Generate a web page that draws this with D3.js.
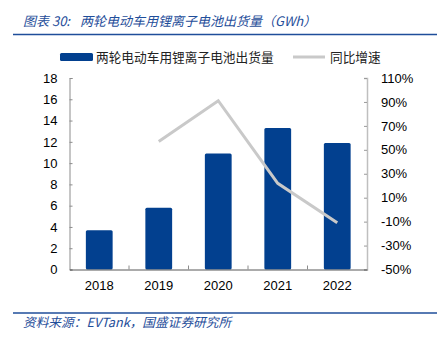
<!DOCTYPE html>
<html><head><meta charset="utf-8">
<script src="https://cdn.jsdelivr.net/npm/d3@7"></script>
<style>
body{margin:0;background:#fff;}
svg{display:block;}
</style></head>
<body>
<svg id="c" width="437" height="343"></svg>
<script>
const years = ["2018","2019","2020","2021","2022"];
const shipments = [3.7, 5.8, 10.9, 13.3, 11.9];
const growth = [null, 57, 91, 22, -11];
const leftTicks = [0,2,4,6,8,10,12,14,16,18];
const rightTicks = [-50,-30,-10,10,30,50,70,90,110];
const titlePrefix = "图表 30:";
const titleText = "两轮电动车用锂离子电池出货量（GWh）";
const sourceText = "资料来源：EVTank，国盛证券研究所";
const seriesNames = ["两轮电动车用锂离子电池出货量","同比增速"];

const svg = d3.select("#c");
const blue = "#02408F", grey = "#C9C9C9", textBlue = "#1F4E9A";
const font = "'Liberation Sans', Arial, sans-serif";
const cjk = "'Noto Sans CJK SC', sans-serif";

const L = 69.5, R = 367, B = 269.5, T = 78;
const x = d3.scaleBand().domain(years).range([L, R]).padding(0);
const yL = d3.scaleLinear().domain([0,18]).range([B, T]);
const yR = d3.scaleLinear().domain([-50,110]).range([B, T]);

// title
const tt = svg.append("text").attr("y",26).attr("fill",textBlue)
  .attr("font-family",cjk).attr("font-size",13).attr("font-style","italic");
tt.append("tspan").attr("x",23).text(titlePrefix);
tt.append("tspan").attr("x",80).text(titleText);
svg.append("line").attr("x1",13).attr("x2",437).attr("y1",34.5).attr("y2",34.5)
  .attr("stroke",textBlue).attr("stroke-width",1.5);

// legend
svg.append("rect").attr("x",60).attr("y",53).attr("width",33).attr("height",8).attr("rx",1.5).attr("fill",blue);
svg.append("text").attr("x",96).attr("y",62).attr("font-family",cjk).attr("font-size",12.7).attr("fill","#222").text(seriesNames[0]);
svg.append("line").attr("x1",293).attr("x2",325).attr("y1",57).attr("y2",57).attr("stroke",grey).attr("stroke-width",3);
svg.append("text").attr("x",330).attr("y",62).attr("font-family",cjk).attr("font-size",12.7).attr("fill","#222").text(seriesNames[1]);

// bars
const bw = x.bandwidth()*0.45;
svg.append("g").selectAll("rect").data(years).join("rect")
  .attr("x", (d)=> x(d)+x.bandwidth()/2-bw/2)
  .attr("y", (d,i)=> yL(shipments[i]))
  .attr("width", bw)
  .attr("height", (d,i)=> B - yL(shipments[i]))
  .attr("rx",1.5)
  .attr("fill", blue);

// axes
const gl = svg.append("g").attr("transform",`translate(${L},0)`)
  .call(d3.axisLeft(yL).tickValues(leftTicks).tickSize(-3).tickPadding(12).tickFormat(d3.format("d")));
gl.select(".domain").attr("stroke","#8c8c8c");
gl.selectAll(".tick line").attr("stroke","#8c8c8c");
gl.selectAll("text").attr("font-family",font).attr("font-size",13).attr("fill","#000");

const gr = svg.append("g").attr("transform",`translate(${R},0)`)
  .call(d3.axisRight(yR).tickValues(rightTicks).tickSize(-3).tickPadding(14).tickFormat(d=>d+"%"));
gr.select(".domain").attr("stroke","#bfbfbf").attr("stroke-width",1.5);
gr.selectAll(".tick line").attr("stroke","#9a9a9a");
gr.selectAll("text").attr("font-family",font).attr("font-size",13).attr("fill","#000");

const gb = svg.append("g").attr("transform",`translate(0,${B})`)
  .call(d3.axisBottom(x).tickSize(0).tickPadding(11));
gb.select(".domain").attr("stroke","#595959");
gb.selectAll("text").attr("font-family",font).attr("font-size",13).attr("fill","#000");
svg.append("g").selectAll("line").data(years.slice(1)).join("line")
  .attr("x1",d=>x(d)).attr("x2",d=>x(d)).attr("y1",B).attr("y2",B-4)
  .attr("stroke","#8c8c8c");

// line
const pts = years.map((d,i)=>({d, v:growth[i]})).filter(p=>p.v!==null);
svg.append("path").datum(pts)
  .attr("d", d3.line().x(p=>x(p.d)+x.bandwidth()/2).y(p=>yR(p.v)))
  .attr("fill","none").attr("stroke",grey).attr("stroke-width",3);

// footer
svg.append("line").attr("x1",13).attr("x2",437).attr("y1",313).attr("y2",313)
  .attr("stroke",textBlue).attr("stroke-width",1.5);
svg.append("text").attr("x",23).attr("y",327).attr("fill",textBlue)
  .attr("font-family",cjk).attr("font-size",12.7).attr("font-style","italic").text(sourceText);
</script>
</body></html>
